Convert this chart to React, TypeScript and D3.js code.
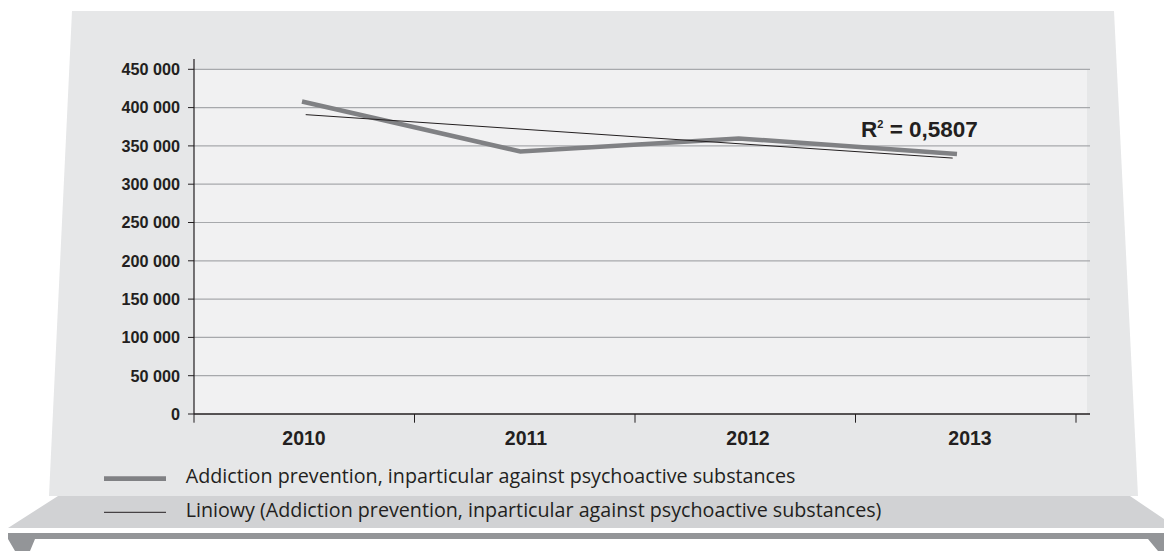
import * as d3 from 'd3'

// chart data
const years = ['2010', '2011', '2012', '2013']
const amounts = [408000, 342700, 359800, 339300]
const yTicks = [0, 50000, 100000, 150000, 200000, 250000, 300000, 350000, 400000, 450000]
const seriesName = 'Addiction prevention, inparticular against psychoactive substances'
const trendName = 'Liniowy (Addiction prevention, inparticular against psychoactive substances)'
const r2Label = '0,5807'

const W = 1164
const H = 551
const PLOT = { left: 194, right: 1090, top: 69.3, bottom: 414 }

const fmt = (v: number) => v === 0 ? '0' : d3.format(',')(v).replace(/,/g, ' ')

export default function App() {
    const y = d3.scaleLinear().domain([0, 450000]).range([PLOT.bottom, PLOT.top])
    const xBand = d3.scaleBand<string>().domain(years).range([PLOT.left, 1076]).padding(0)
    const xLine = d3.scalePoint<string>().domain(years).range([302, 957])
    const xLabel = d3.scalePoint<string>().domain(years).range([304, 970])

    // linear trend (least squares) over the 4 points
    const idx = years.map((_, i) => i)
    const mx = d3.mean(idx) as number
    const my = d3.mean(amounts) as number
    const slope = d3.sum(idx, i => (i - mx) * (amounts[i] - my)) / d3.sum(idx, i => (i - mx) ** 2)
    const icpt = my - slope * mx
    const trendX = d3.scaleLinear().domain([0, 3]).range([305.7, 952.7])

    const line = d3.line<number>()
        .x((_, i) => xLine(years[i]) as number)
        .y(d => y(d))

    const ticksX = [...years.map(d => xBand(d) as number), 1076]

    return (
        <svg width={W} height={H} style={{ position: 'absolute', left: 0, top: 0 }}
            fontFamily="'Liberation Sans', Arial, sans-serif">
            <rect x={0} y={0} width={W} height={H} fill="#ffffff" />
            {/* panel */}
            <polygon points="72,11 1114,11 1138,496 49,496" fill="#e6e7e8" />
            {/* shelf */}
            <polygon points="58,496 1130,496 1164,519 1164,528 8,528" fill="#d1d2d4" />
            {/* dark base bar */}
            <polygon points="8,533 1164,533 1164,551 1158,551 1148,539 35,539 30,551 15,551 8,539" fill="#939598" />

            {/* plot background */}
            <rect x={PLOT.left} y={PLOT.top} width={1087 - PLOT.left} height={PLOT.bottom - PLOT.top} fill="#f1f1f2" />

            {/* gridlines + y ticks */}
            {yTicks.map(t => (
                <g key={t}>
                    {t > 0 && <line x1={PLOT.left} x2={PLOT.right} y1={y(t)} y2={y(t)} stroke="#a7a9ac" strokeWidth={1.2} />}
                    <line x1={188} x2={PLOT.left} y1={y(t)} y2={y(t)} stroke="#231f20" strokeWidth={1} />
                    <text x={180} y={y(t)} dy="0.36em" textAnchor="end" fontSize={16.2} fontWeight="bold" fill="#231f20">{fmt(t)}</text>
                </g>
            ))}

            {/* axes */}
            <line x1={PLOT.left} x2={PLOT.left} y1={59} y2={PLOT.bottom} stroke="#231f20" strokeWidth={1.2} />
            <line x1={PLOT.left} x2={PLOT.right} y1={PLOT.bottom} y2={PLOT.bottom} stroke="#231f20" strokeWidth={1.5} />
            {ticksX.map((t, i) => (
                <line key={i} x1={t} x2={t} y1={PLOT.bottom} y2={422.7} stroke="#231f20" strokeWidth={1} />
            ))}
            {years.map(d => (
                <text key={d} x={xLabel(d)} y={445.3} textAnchor="middle" fontSize={19.5} fontWeight="bold" fill="#231f20">{d}</text>
            ))}

            {/* series */}
            <path d={line(amounts) as string} fill="none" stroke="#808184" strokeWidth={4.5} />
            <line x1={trendX(0)} x2={trendX(3)} y1={y(icpt)} y2={y(icpt + slope * 3)} stroke="#231f20" strokeWidth={1} />

            {/* R² label */}
            <text x={861} y={136.7} fontSize={22.5} fontWeight="bold" fill="#231f20">
                R<tspan dy={-9} fontSize={11}>2</tspan><tspan dy={9}>{' = ' + r2Label}</tspan>
            </text>

            {/* legend */}
            <line x1={104} x2={166} y1={478.7} y2={478.7} stroke="#808184" strokeWidth={4.7} />
            <text x={185.7} y={483.3} fontSize={19.7} fontFamily="'Open Sans', sans-serif" fill="#231f20">{seriesName}</text>
            <line x1={104} x2={166} y1={512.3} y2={512.3} stroke="#231f20" strokeWidth={1} />
            <text x={185.7} y={517.3} fontSize={19.7} fontFamily="'Open Sans', sans-serif" fill="#231f20">{trendName}</text>
        </svg>
    )
}
